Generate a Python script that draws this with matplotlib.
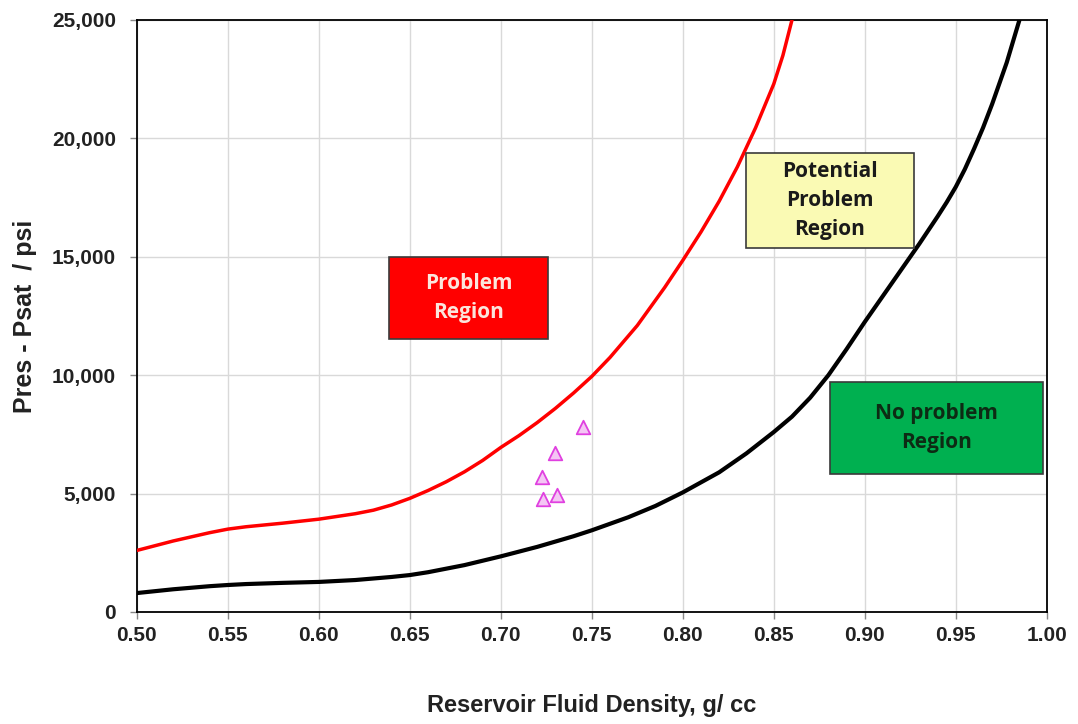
import matplotlib
matplotlib.use("Agg")
import matplotlib.pyplot as plt
from matplotlib.patches import Rectangle

# red boundary (problem region)
red_x = [0.50, 0.52, 0.54, 0.55, 0.56, 0.58, 0.60, 0.62, 0.63, 0.64, 0.65, 0.66, 0.67,
         0.68, 0.69, 0.70, 0.71, 0.72, 0.73, 0.74, 0.75, 0.76, 0.775, 0.79, 0.80, 0.81,
         0.82, 0.83, 0.84, 0.85, 0.855, 0.86]
red_y = [2600, 3000, 3350, 3500, 3600, 3750, 3920, 4150, 4300, 4520, 4800, 5130, 5500,
         5920, 6400, 6950, 7450, 8000, 8600, 9250, 9950, 10750, 12100, 13700, 14850, 16050,
         17350, 18800, 20450, 22300, 23500, 25000]

# black boundary (no problem region)
black_x = [0.50, 0.52, 0.54, 0.55, 0.56, 0.58, 0.60, 0.62, 0.64, 0.65, 0.66, 0.68, 0.70,
           0.72, 0.74, 0.75, 0.77, 0.785, 0.80, 0.82, 0.835, 0.85, 0.86, 0.87, 0.88, 0.89,
           0.90, 0.91, 0.92, 0.93, 0.94, 0.945, 0.95, 0.955, 0.96, 0.965, 0.97, 0.978, 0.985]
black_y = [800, 960, 1090, 1140, 1180, 1230, 1270, 1350, 1480, 1560, 1680, 1980, 2350,
           2750, 3200, 3450, 4000, 4480, 5050, 5900, 6700, 7600, 8250, 9050, 10000, 11100,
           12250, 13350, 14450, 15550, 16700, 17300, 17950, 18700, 19550, 20450, 21450,
           23200, 25000]

# samples
pts_x = [0.745, 0.730, 0.7225, 0.723, 0.731]
pts_y = [7810, 6710, 5700, 4770, 4940]

# region boxes: label, x0, y0, x1, y1, face, text colour
boxes = [
    ("Problem\nRegion", 0.6385, 11530, 0.726, 14990, "#ff0000", "#fbe5dc"),
    ("Potential\nProblem\nRegion", 0.8346, 15370, 0.927, 19380, "#fafab4", "#1a1a1a"),
    ("No problem\nRegion", 0.8808, 5830, 0.998, 9710, "#00b050", "#0d2b14"),
]

fig = plt.figure(figsize=(10.78, 7.24), dpi=100)
ax = fig.add_axes([0.127, 0.1547, 0.844, 0.8177])

ax.plot(red_x, red_y, color="#ff0000", lw=2.5, zorder=3, solid_joinstyle="round")
ax.plot(black_x, black_y, color="black", lw=3, zorder=3, solid_joinstyle="round")
ax.scatter(pts_x, pts_y, marker="^", s=95, facecolors="#f4c6f4", edgecolors="#e040e0",
           linewidths=1.3, zorder=4)

for label, x0, y0, x1, y1, fc, tc in boxes:
    ax.add_patch(Rectangle((x0, y0), x1 - x0, y1 - y0, facecolor=fc, edgecolor="#3a3a3a",
                           lw=1.2, zorder=5))
    ax.text((x0 + x1) / 2, (y0 + y1) / 2, label, ha="center", va="center", color=tc,
            fontsize=15, fontweight="bold", family="Open Sans", linespacing=1.5, zorder=6)

ax.set_xlim(0.50, 1.00)
ax.set_ylim(0, 25000)
ax.set_xticks([0.50 + 0.05 * i for i in range(11)])
ax.set_yticks(range(0, 25001, 5000))
ax.xaxis.set_major_formatter(matplotlib.ticker.FormatStrFormatter("%.2f"))
ax.yaxis.set_major_formatter(matplotlib.ticker.StrMethodFormatter("{x:,.0f}"))
ax.grid(True, color="#d9d9d9", lw=1)
ax.set_axisbelow(True)
for s in ax.spines.values():
    s.set_linewidth(1.3)
ax.tick_params(direction="out", length=5, width=1, color="#888888", labelsize=15)
ax.tick_params(axis="y", pad=10)
ax.tick_params(axis="x", pad=5)
for lab in ax.get_xticklabels() + ax.get_yticklabels():
    lab.set_fontweight("bold")
    lab.set_family("Liberation Sans")
    lab.set_color("#222222")

ax.set_xlabel("Reservoir Fluid Density, g/ cc", fontsize=17, fontweight="bold",
              family="Liberation Sans", color="#222222")
ax.set_ylabel("Pres - Psat  / psi", fontsize=18, fontweight="bold",
              family="Liberation Sans", color="#222222")
ax.xaxis.set_label_coords(0.5, -0.138)
ax.yaxis.set_label_coords(-0.110, 0.5)

fig.savefig("out.png", dpi=100)
